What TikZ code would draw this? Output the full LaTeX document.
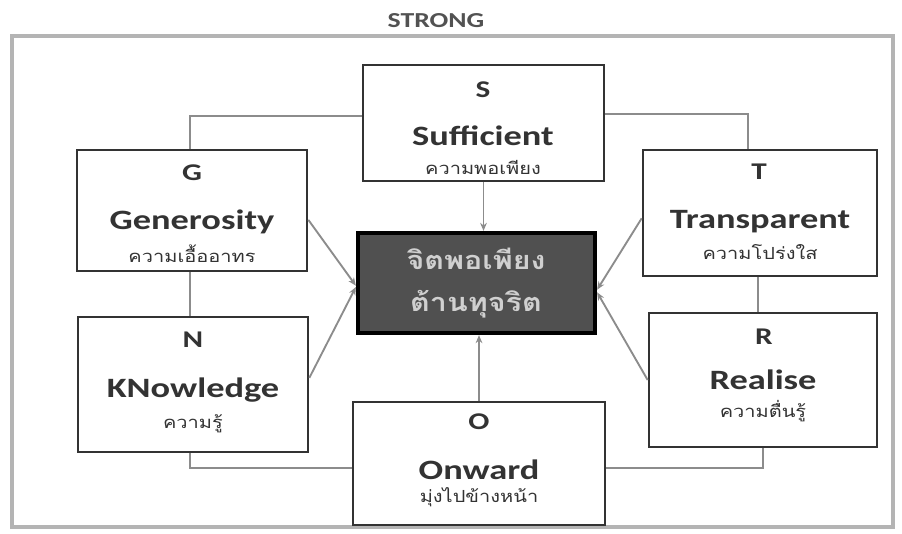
\documentclass[tikz,border=0pt]{standalone}
\usepackage{fontspec}
\setmainfont{Carlito}
\newfontfamily\enfont[FakeStretch=1.3]{Carlito}
\newfontfamily\thfont[Script=Thai,FakeStretch=1.2]{Loma}
\usetikzlibrary{arrows.meta,calc}
\definecolor{boxc}{HTML}{333333}
\definecolor{connc}{HTML}{8C8C8C}
\definecolor{framec}{HTML}{B4B4B4}
\definecolor{txt}{HTML}{333333}
\definecolor{cfill}{HTML}{505050}
\definecolor{ctxt}{HTML}{D0D0D0}
\tikzset{
  box/.style={draw=boxc, line width=2pt, fill=white, inner sep=0pt},
  cbox/.style={draw=black, line width=3.2pt, fill=cfill, inner sep=0pt},
  conn/.style={draw=connc, line width=1.4pt},
  arr/.style={conn, -{Stealth[length=6pt,width=5pt]}},
  letter/.style={font=\enfont\bfseries\fontsize{18}{20}\selectfont, text=txt, inner sep=0pt},
  word/.style={font=\enfont\bfseries\fontsize{21}{23}\selectfont, text=txt, inner sep=0pt},
  thai/.style={font=\thfont\fontsize{12.5}{14}\selectfont, text=txt, inner sep=0pt},
  cthai/.style={font=\thfont\bfseries\fontsize{19}{22}\selectfont, text=ctxt, inner sep=0pt},
  title/.style={font=\enfont\bfseries\fontsize{16}{18}\selectfont, text=txt!85, inner sep=0pt},
}
\newcommand\pxbox[6]{\node[#6, minimum width=#4*0.75pt, minimum height=#5*0.75pt] (#1) at (#2,#3) {};}
\begin{document}
\begin{tikzpicture}[x=0.75pt,y=-0.75pt]
\useasboundingbox (0,0) rectangle (902,533);
\fill[white] (0,0) rectangle (902,533);
\node[title] (strong) at (436,21) {STRONG};
\draw[framec, line width=2.5pt] (12,36) rectangle (893,527);
% boxes
\pxbox{S}{483.5}{123}{241}{116}{box}
\pxbox{G}{192}{210.5}{230}{121}{box}
\pxbox{T}{760}{213}{234}{126}{box}
\pxbox{N}{193}{384.5}{230}{135}{box}
\pxbox{R}{763}{380}{228}{134}{box}
\pxbox{O}{479}{463.5}{252}{123}{box}
\pxbox{C}{476.5}{283}{237}{100}{cbox}
% connectors
\draw[conn] ([xshift=-1.5pt]G.north) |- ([yshift=5pt]S.west);
\draw[conn] ([yshift=7pt]S.east) -| ([xshift=-9pt]T.north);
\draw[conn] ([xshift=-1.5pt]G.south) -- ([xshift=-1.5pt]G.south |- N.north);
\draw[conn] ([xshift=-1.5pt]T.south) -- ([xshift=-1.5pt]T.south |- R.north);
\draw[conn] ([xshift=-2pt]N.south) |- ([yshift=-3.5pt]O.west);
\draw[conn] (R.south) |- ([yshift=-3.5pt]O.east);
\draw[arr] (S.south) -- (S.south |- C.north);
\draw[arr] (O.north) -- (O.north |- C.south);
\draw[arr] ([yshift=-7pt]G.east) -- ([yshift=-2pt]C.west);
\draw[arr] ([yshift=5pt]N.east) -- ([yshift=-3pt]C.west);
\draw[arr] ([yshift=-4pt]T.west) -- ([yshift=-5pt]C.east);
\draw[arr] (R.west) -- ([yshift=-7pt]C.east);
% texts
\node[letter] (Sl) at (483,90) {S};
\node[word] (Sw) at (483,136) {Sufficient};
\node[thai] (St) at (483,167) {ความพอเพียง};
\node[letter] (Gl) at (192,173) {G};
\node[word] (Gw) at (192,222) {Generosity};
\node[thai] (Gt) at (192,254) {ความเอื้ออาทร};
\node[letter] (Tl) at (759,172) {T};
\node[word] (Tw) at (760,222) {Transparent};
\node[thai] (Tt) at (760,252) {ความโปร่งใส};
\node[letter] (Nl) at (193,340) {N};
\node[word] (Nw) at (193,390) {KNowledge};
\node[thai] (Nt) at (193,424) {ความรู้};
\node[letter] (Rl) at (764,337) {R};
\node[word] (Rw) at (763,380) {Realise};
\node[thai] (Rt) at (763,411) {ความตื่นรู้};
\node[letter] (Ol) at (479,422) {O};
\node[word] (Ow) at (479,470) {Onward};
\node[thai] (Ot) at (479,497) {มุ่งไปข้างหน้า};
\node[cthai] (C1) at (476,259) {จิตพอเพียง};
\node[cthai] (C2) at (476,304) {ต้านทุจริต};
\end{tikzpicture}
\end{document}
